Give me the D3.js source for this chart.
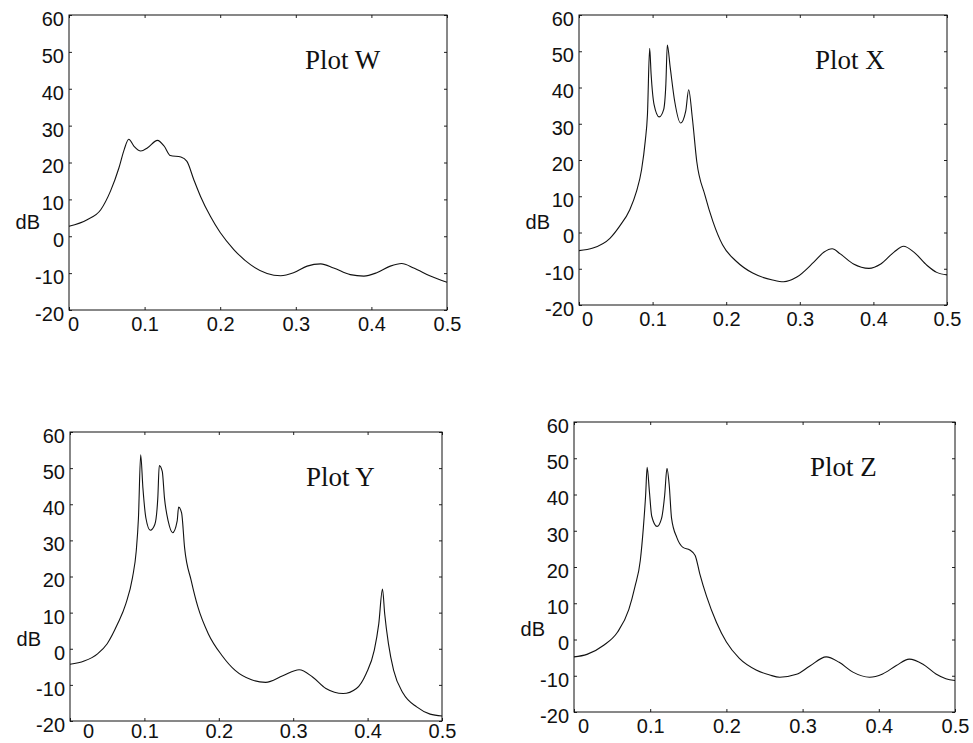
<!DOCTYPE html>
<html>
<head>
<meta charset="utf-8">
<script src="https://cdn.jsdelivr.net/npm/d3@7"></script>
<style>
  body { margin: 0; background: #fff; }
  svg { display: block; }
  .tick text { font-family: "Liberation Sans", Arial, sans-serif; font-size: 20px; fill: #111; }
  .tick line { stroke: #222; }
</style>
</head>
<body>
<script>
// tick values shared by all four plots
const freqTicks = [0, 0.1, 0.2, 0.3, 0.4, 0.5];
const dbTicks = [-20, -10, 0, 10, 20, 30, 40, 50, 60];

// Plot W
const freqW = [0, 0.024, 0.042, 0.055, 0.066, 0.073, 0.079, 0.086, 0.095, 0.104,
  0.117, 0.126, 0.134, 0.148, 0.156, 0.165, 0.174, 0.187, 0.2, 0.218,
  0.24, 0.262, 0.28, 0.297, 0.315, 0.333, 0.35, 0.372, 0.39, 0.407,
  0.425, 0.44, 0.456, 0.478, 0.5];
const dbW = [2.7, 4.5, 7.2, 12.3, 18.5, 23.5, 26.3, 24.4, 23.1, 24,
  26, 24.4, 21.9, 21.5, 20.3, 15.4, 10.8, 5.4, 1.0, -3.6,
  -7.7, -10.1, -10.7, -9.9, -8.1, -7.5, -8.6, -10.4, -10.8, -9.9,
  -8.1, -7.4, -8.6, -10.8, -12.5];

// Plot X
const freqX = [0, 0.019, 0.042, 0.055, 0.069, 0.078, 0.085, 0.09, 0.093, 0.096,
  0.098, 0.102, 0.109, 0.115, 0.118, 0.12, 0.124, 0.13, 0.138, 0.145,
  0.149, 0.154, 0.16, 0.171, 0.182, 0.195, 0.214, 0.236, 0.263, 0.278,
  0.296, 0.319, 0.333, 0.344, 0.355, 0.373, 0.394, 0.41, 0.428, 0.441,
  0.455, 0.473, 0.486, 0.5];
const dbX = [-5.0, -4.3, -1.6, 1.7, 6.3, 11.3, 17.3, 25.2, 32.5, 50.8,
  43.6, 35.3, 31.9, 33.9, 40.8, 51.7, 45.4, 36.2, 30.2, 33.5,
  39.4, 31.6, 19.6, 10.4, 3.0, -3.4, -8.0, -11.2, -13.1, -13.6,
  -12.3, -8.2, -5.4, -4.5, -5.9, -8.7, -9.9, -8.7, -5.4, -3.8,
  -5.4, -9.1, -11, -11.7];

// Plot Y
const freqY = [0, 0.019, 0.037, 0.05, 0.064, 0.075, 0.084, 0.089, 0.092, 0.095,
  0.098, 0.102, 0.108, 0.114, 0.118, 0.12, 0.124, 0.127, 0.132, 0.138,
  0.144, 0.146, 0.15, 0.154, 0.163, 0.172, 0.186, 0.204, 0.222, 0.244,
  0.263, 0.286, 0.308, 0.326, 0.344, 0.367, 0.385, 0.398, 0.409, 0.415,
  0.42, 0.423, 0.428, 0.435, 0.448, 0.466, 0.484, 0.5];
const dbY = [-4.3, -3.4, -1.4, 1.4, 6.9, 12.4, 19.7, 27, 36.2, 53.7,
  44.5, 36.2, 32.8, 34.4, 41.7, 50.7, 49.1, 41.7, 35.3, 32.1,
  35.3, 39.2, 37.6, 28, 18.8, 11.5, 4.1, -1.8, -6, -8.6,
  -9.3, -7.5, -5.8, -7.8, -11, -12.4, -11, -6.9, -0.4, 6.9,
  16.5, 9.6, 1.4, -6, -12.4, -16.1, -18.1, -18.6];

// Plot Z
const freqZ = [0, 0.017, 0.039, 0.057, 0.072, 0.08, 0.087, 0.091, 0.094, 0.096,
  0.099, 0.102, 0.109, 0.115, 0.119, 0.122, 0.125, 0.128, 0.135, 0.143,
  0.152, 0.159, 0.165, 0.174, 0.187, 0.2, 0.217, 0.239, 0.257, 0.27,
  0.292, 0.309, 0.331, 0.348, 0.366, 0.388, 0.405, 0.423, 0.44, 0.458,
  0.475, 0.488, 0.5];
const dbZ = [-4.8, -4.1, -1.6, 2.0, 8.3, 14.6, 21.8, 30.8, 39.8, 47.5,
  40.7, 34, 31.2, 33.5, 39.8, 47.2, 42.5, 33.5, 28.1, 25.4,
  24.7, 23.2, 18.2, 11.9, 4.7, -0.7, -5.2, -8.4, -9.8, -10.4,
  -9.6, -7.4, -4.8, -6.3, -9, -10.4, -9.5, -7.2, -5.4, -6.8,
  -9.5, -10.8, -11.3];

const titles = ["Plot W", "Plot X", "Plot Y", "Plot Z"];
const freqs = [freqW, freqX, freqY, freqZ];
const dbs = [dbW, dbX, dbY, dbZ];

// panel boxes (page pixels) -- the scan is not quite square so each differs a bit
const boxes = [
  { left: 69, top: 15, width: 378, height: 295, zeroShift: 4, pad: 7 },
  { left: 579, top: 15, width: 368, height: 290, zeroShift: 8, pad: 7 },
  { left: 70, top: 432, width: 372, height: 289, zeroShift: 18, pad: 3 },
  { left: 574, top: 422, width: 381, height: 290, zeroShift: 9, pad: 7 }
];

const width = 973;
const height = 743;

const svg = d3.select("body")
  .append("svg")
  .attr("width", width)
  .attr("height", height);

const fmtX = d => d === 0 ? "0" : d3.format(".1f")(d);
const fmtY = d => String(d); // plain hyphen minus, like the original

boxes.forEach((b, i) => {
  const x = d3.scaleLinear().domain([0, 0.5]).range([0, b.width]);
  const y = d3.scaleLinear().domain([-20, 60]).range([b.height, 0]);

  const g = svg.append("g")
    .attr("transform", `translate(${b.left},${b.top})`);

  // AXES (ticks point inward on all four sides)
  const xAxis = g.append("g")
    .attr("transform", `translate(0,${b.height})`)
    .call(d3.axisBottom(x).tickValues(freqTicks).tickFormat(fmtX)
      .tickSizeInner(-3).tickSizeOuter(0).tickPadding(b.pad));
  xAxis.select(".domain").remove();
  xAxis.selectAll(".tick text")
    .attr("dx", d => d === 0 ? b.zeroShift : 0);

  const yAxis = g.append("g")
    .call(d3.axisLeft(y).tickValues(dbTicks).tickFormat(fmtY)
      .tickSizeInner(-3).tickSizeOuter(0).tickPadding(5));
  yAxis.select(".domain").remove();
  yAxis.selectAll(".tick text").attr("dy", "0.52em");

  g.append("g")
    .call(d3.axisTop(x).tickValues(freqTicks).tickFormat("")
      .tickSizeInner(-3).tickSizeOuter(0))
    .select(".domain").remove();

  g.append("g")
    .attr("transform", `translate(${b.width},0)`)
    .call(d3.axisRight(y).tickValues(dbTicks).tickFormat("")
      .tickSizeInner(-3).tickSizeOuter(0))
    .select(".domain").remove();

  // frame
  g.append("rect")
    .attr("width", b.width)
    .attr("height", b.height)
    .attr("fill", "none")
    .attr("stroke", "#111")
    .attr("stroke-width", 1);

  // spectrum
  const pts = freqs[i].map((f, j) => [f, dbs[i][j]]);
  const line = d3.line()
    .x(d => x(d[0]))
    .y(d => y(d[1]))
    .curve(d3.curveMonotoneX);
  g.append("path")
    .datum(pts)
    .attr("d", line)
    .attr("fill", "none")
    .attr("stroke", "#111")
    .attr("stroke-width", 1.1);

  // title inside the box
  g.append("text")
    .attr("x", 236)
    .attr("y", 54)
    .attr("font-family", "'Liberation Serif', 'Times New Roman', serif")
    .attr("font-size", 27)
    .attr("fill", "#111")
    .text(titles[i]);

  // dB label
  g.append("text")
    .attr("x", -29)
    .attr("y", 214)
    .attr("text-anchor", "end")
    .attr("font-family", "'Liberation Sans', Arial, sans-serif")
    .attr("font-size", 20)
    .attr("fill", "#111")
    .text("dB");
});
</script>
</body>
</html>
